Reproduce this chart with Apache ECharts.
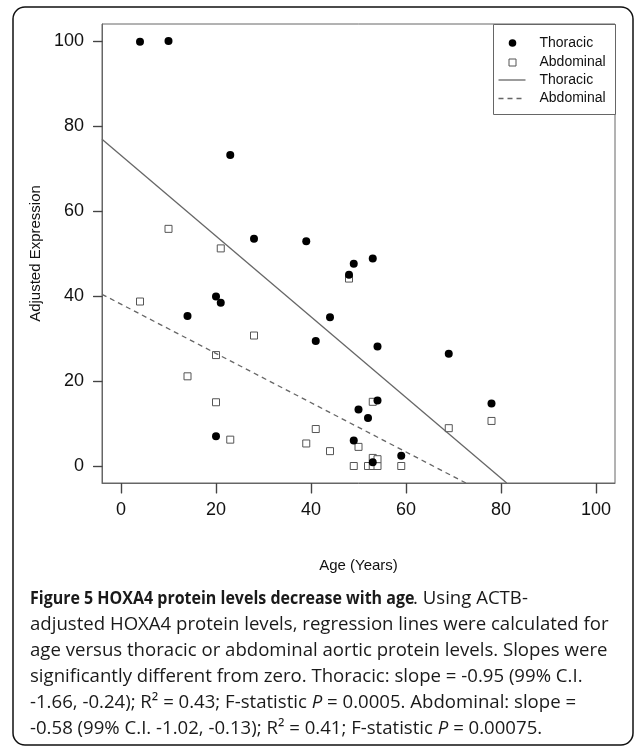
<!DOCTYPE html>
<html lang="en">
<head>
    <meta charset="UTF-8">
    <title>HOXA4 vs age</title>
    <script src="https://cdn.jsdelivr.net/npm/echarts@6/dist/echarts.min.js"></script>
    <style>
        html, body { margin: 0; padding: 0; background: #fff; }
        #chart { width: 635px; height: 748px; }
    </style>
</head>
<body>
<div id="chart"></div>
<script>
    // values
    var thoracicAge = [4, 10, 23, 28, 39, 20, 21, 14, 41, 20, 49, 53, 48, 44, 54, 69, 54, 78, 50, 52, 49, 53, 59];
    var thoracicExpr = [99.8, 100, 73.2, 53.5, 52.9, 39.9, 38.4, 35.3, 29.4, 7.0, 47.6, 48.8, 45.0, 35.0, 28.1, 26.4, 15.4, 14.7, 13.3, 11.3, 6.0, 0.9, 2.4];
    var abdominalAge = [4, 10, 21, 28, 20, 14, 20, 23, 39, 41, 48, 53, 69, 78, 44, 50, 49, 52, 53, 54, 53, 54, 59];
    var abdominalExpr = [38.7, 55.8, 51.2, 30.7, 26.1, 21.1, 15.0, 6.2, 5.3, 8.7, 44.1, 15.1, 8.9, 10.6, 3.5, 4.5, 0, 0, 0, 0, 1.9, 1.6, 0];
    // regression lines (end points where they leave the plot)
    var thoracicFit = [[-4, 76.9], [81.2, -4]];
    var abdominalFit = [[-4, 40.4], [72.6, -4]];
    var xTicks = [0, 20, 40, 60, 80, 100];
    var yTicks = [0, 20, 40, 60, 80, 100];
    var axisMin = -4, axisMax = 104;

    function pairs(xs, ys) {
        return xs.map(function (x, i) { return [x, ys[i]]; });
    }

    var chart = echarts.init(document.getElementById('chart'));

    var axisFont = 'Liberation Sans, Arial, sans-serif';
    var capFont = '"Open Sans", "Noto Sans", sans-serif';
    var capSize = 18.6;
    var capRich = {
        n: { fontFamily: capFont, fontSize: capSize, fill: '#1a1a1a' },
        i: { fontFamily: capFont, fontSize: capSize, fontStyle: 'italic', fill: '#1a1a1a' }
    };
    var capLines = [
        '{n|adjusted HOXA4 protein levels, regression lines were calculated for}',
        '{n|age versus thoracic or abdominal aortic protein levels. Slopes were}',
        '{n|significantly different from zero. Thoracic: slope = -0.95 (99% C.I.}',
        '{n|-1.66, -0.24); R² = 0.43; F-statistic }{i|P}{n| = 0.0005. Abdominal: slope =}',
        '{n|-0.58 (99% C.I. -1.02, -0.13); R² = 0.41; F-statistic }{i|P}{n| = 0.00075.}'
    ];
    var capY = [624.5, 650.5, 677, 703, 729];

    var graphics = [
        {
            type: 'rect',
            shape: { x: 13, y: 7, width: 620, height: 738, r: 12 },
            style: { fill: null, stroke: '#111', lineWidth: 1.5 },
            silent: true
        },
        // legend box
        {
            type: 'group', left: 493, top: 24, z: 110,
            children: [
                { type: 'rect', shape: { x: 0, y: 0, width: 122, height: 90 },
                  style: { fill: '#fff', stroke: '#666', lineWidth: 1 } },
                { type: 'circle', shape: { cx: 19, cy: 18.5, r: 3.8 }, style: { fill: '#000' } },
                { type: 'rect', shape: { x: 15.5, y: 34.5, width: 7, height: 7 },
                  style: { fill: '#fff', stroke: '#555', lineWidth: 1 } },
                { type: 'line', shape: { x1: 5, y1: 55.5, x2: 32, y2: 55.5 },
                  style: { stroke: '#666', lineWidth: 1.3 } },
                { type: 'line', shape: { x1: 5, y1: 74, x2: 32, y2: 74 },
                  style: { stroke: '#666', lineWidth: 1.3, lineDash: [5, 4] } },
                { type: 'text', x: 46, y: 18.5, style: { text: 'Thoracic', font: '14px ' + axisFont, fill: '#111', verticalAlign: 'middle' } },
                { type: 'text', x: 46, y: 37.5, style: { text: 'Abdominal', font: '14px ' + axisFont, fill: '#111', verticalAlign: 'middle' } },
                { type: 'text', x: 46, y: 55.5, style: { text: 'Thoracic', font: '14px ' + axisFont, fill: '#111', verticalAlign: 'middle' } },
                { type: 'text', x: 46, y: 74, style: { text: 'Abdominal', font: '14px ' + axisFont, fill: '#111', verticalAlign: 'middle' } }
            ]
        },
        // caption, first line: bold title then plain text
        {
            type: 'text', x: 30, y: 598.5, scaleX: 0.86,
            style: { text: 'Figure 5 HOXA4 protein levels decrease with age', fontFamily: capFont,
                     fontSize: capSize, fontWeight: 'bold', fill: '#1a1a1a', verticalAlign: 'middle' }
        },
        {
            type: 'text', x: 413, y: 598.5,
            style: { text: '. Using ACTB-', fontFamily: capFont, fontSize: capSize, fill: '#1a1a1a', verticalAlign: 'middle' }
        }
    ];
    capLines.forEach(function (t, i) {
        graphics.push({
            type: 'text', x: 30, y: capY[i],
            style: { text: t, rich: capRich, verticalAlign: 'middle' }
        });
    });

    // outward tick marks, placed through the cartesian scales
    function tickSeries(values, horizontal) {
        return {
            type: 'custom', silent: true, clip: false, z: 20,
            data: values.map(function (v) { return horizontal ? [v, axisMin] : [axisMin, v]; }),
            renderItem: function (params, api) {
                var p = api.coord([api.value(0), api.value(1)]);
                var x = Math.round(p[0]) + 0.5, y = Math.round(p[1]) + 0.5;
                var shape = horizontal
                    ? { x1: x, y1: y, x2: x, y2: y + 10 }
                    : { x1: x - 9, y1: y, x2: x, y2: y };
                return { type: 'line', shape: shape, style: { stroke: '#444', lineWidth: 1.2, fill: null } };
            }
        };
    }

    var option = {
        animation: false,
        grid: { left: 102, top: 24, width: 513, height: 459, show: true, borderColor: '#666', borderWidth: 1 },
        xAxis: {
            type: 'value', min: axisMin, max: axisMax,
            name: 'Age (Years)', nameLocation: 'middle', nameGap: 75,
            nameTextStyle: { fontFamily: axisFont, fontSize: 15, color: '#111' },
            axisLine: { show: true, onZero: false, lineStyle: { color: '#666', width: 1 } },
            splitLine: { show: false },
            axisTick: { show: true, length: 10, customValues: xTicks, lineStyle: { color: '#444', width: 1.2 } },
            axisLabel: { customValues: xTicks, fontFamily: axisFont, fontSize: 18, color: '#111', margin: 18 }
        },
        yAxis: {
            type: 'value', min: axisMin, max: axisMax,
            name: 'Adjusted Expression', nameLocation: 'middle', nameGap: 53, nameRotate: 90,
            nameTextStyle: { fontFamily: axisFont, fontSize: 15, color: '#111' },
            axisLine: { show: true, onZero: false, lineStyle: { color: '#666', width: 1 } },
            splitLine: { show: false },
            axisTick: { show: true, length: 9, customValues: yTicks, lineStyle: { color: '#444', width: 1.2 } },
            axisLabel: { customValues: yTicks, fontFamily: axisFont, fontSize: 18, color: '#111', margin: 18 }
        },
        series: [
            {
                name: 'Abdominal', type: 'scatter', symbol: 'rect', symbolSize: 7,
                itemStyle: { color: '#fff', borderColor: '#555', borderWidth: 1, opacity: 1 },
                data: pairs(abdominalAge, abdominalExpr)
            },
            {
                name: 'Thoracic', type: 'scatter', symbol: 'circle', symbolSize: 8,
                itemStyle: { color: '#000', opacity: 1 },
                data: pairs(thoracicAge, thoracicExpr)
            },
            {
                name: 'Thoracic fit', type: 'line', symbol: 'none', clip: true,
                lineStyle: { color: '#666', width: 1.3 },
                data: thoracicFit
            },
            {
                name: 'Abdominal fit', type: 'line', symbol: 'none', clip: true,
                lineStyle: { color: '#666', width: 1.3, type: [5, 4] },
                data: abdominalFit
            },
            tickSeries(xTicks, true),
            tickSeries(yTicks, false)
        ],
        graphic: graphics
    };

    chart.setOption(option);
</script>
</body>
</html>
